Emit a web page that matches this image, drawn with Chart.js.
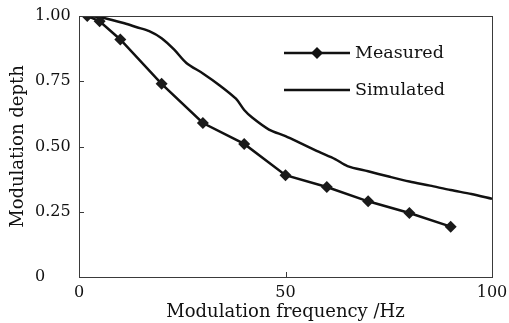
<!DOCTYPE html>
<html>
<head>
<meta charset="utf-8">
<script src="https://cdn.jsdelivr.net/npm/chart.js@4.4.1/dist/chart.umd.min.js"></script>
<style>
  html, body { margin: 0; padding: 0; background: #fff; }
  #wrap { width: 509px; height: 323px; }
</style>
</head>
<body>
<div id="wrap"><canvas id="c" width="509" height="323"></canvas></div>
<script>
// Modulation depth versus modulation frequency
const seriesNames = ['Measured', 'Simulated'];

const measuredFreq  = [2, 5, 10, 20, 30, 40, 50, 60, 70, 80, 90];
const measuredDepth = [1.00, 0.98, 0.91, 0.74, 0.59, 0.51, 0.39, 0.345, 0.29, 0.245, 0.193];

const simulatedFreq  = [2, 5, 8, 11, 14, 17, 20, 23, 26, 30, 34, 38, 40, 42, 46, 50, 54, 58, 62, 65, 70, 75, 80, 85, 90, 95, 100];
const simulatedDepth = [1.00, 0.995, 0.985, 0.972, 0.957, 0.942, 0.915, 0.872, 0.82, 0.78, 0.735, 0.683, 0.64, 0.61, 0.565, 0.54, 0.51, 0.48, 0.452, 0.425, 0.405, 0.385, 0.366, 0.35, 0.333, 0.318, 0.30];

const xTickValues = [0, 50, 100];
const yTickValues = [0, 0.25, 0.5, 0.75, 1];
const yTickLabels = ['0', '0.25', '0.50', '0.75', '1.00'];
const xTitle = 'Modulation frequency /Hz';
const yTitle = 'Modulation depth';

const FONT = '"DejaVu Serif", serif';

const toPoints = (xs, ys) => xs.map((x, i) => ({ x: x, y: ys[i] }));

// frame, inward tick marks, left-aligned y labels and in-plot legend
const framePlugin = {
  id: 'frame',
  afterDatasetsDraw(chart) {
    const { ctx, chartArea: a, scales } = chart;
    ctx.save();
    ctx.strokeStyle = '#3a3a3a';
    ctx.lineWidth = 1;
    ctx.strokeRect(a.left + 0.5, a.top + 0.5, a.right - a.left, a.bottom - a.top);
    // inner ticks
    ctx.beginPath();
    yTickValues.slice(1, -1).forEach(v => {
      const y = Math.round(scales.y.getPixelForValue(v)) + 0.5;
      ctx.moveTo(a.left, y); ctx.lineTo(a.left + 5, y);
    });
    xTickValues.slice(1, -1).forEach(v => {
      const x = Math.round(scales.x.getPixelForValue(v)) + 0.5;
      ctx.moveTo(x, a.bottom); ctx.lineTo(x, a.bottom - 5);
    });
    ctx.stroke();

    // y tick labels, left aligned in a column
    ctx.fillStyle = '#111';
    ctx.font = '16px ' + FONT;
    ctx.textAlign = 'left';
    ctx.textBaseline = 'middle';
    yTickValues.forEach((v, i) => {
      ctx.fillText(yTickLabels[i], a.left - 44, scales.y.getPixelForValue(v));
    });

    // legend
    const lx0 = 284, lx1 = 350, tx = 355;
    const rows = [53, 90];
    ctx.font = '17.5px ' + FONT;
    chart.data.datasets.forEach((ds, i) => {
      const y = rows[i];
      ctx.strokeStyle = '#111';
      ctx.lineWidth = 2.5;
      ctx.beginPath(); ctx.moveTo(lx0, y); ctx.lineTo(lx1, y); ctx.stroke();
      if (ds.pointRadius > 0) {
        const cx = (lx0 + lx1) / 2, r = 6;
        ctx.beginPath();
        ctx.moveTo(cx, y - r); ctx.lineTo(cx + r, y); ctx.lineTo(cx, y + r); ctx.lineTo(cx - r, y);
        ctx.closePath(); ctx.fill();
      }
      ctx.fillText(ds.label, tx, y);
    });
    ctx.restore();
  }
};

new Chart(document.getElementById('c'), {
  type: 'scatter',
  data: {
    datasets: [
      {
        label: seriesNames[0],
        data: toPoints(measuredFreq, measuredDepth),
        showLine: true,
        borderColor: '#111',
        backgroundColor: '#1a1a1a',
        borderWidth: 2.5,
        pointStyle: 'rectRot',
        pointRadius: 6,
        pointBorderWidth: 0,
        tension: 0
      },
      {
        label: seriesNames[1],
        data: toPoints(simulatedFreq, simulatedDepth),
        showLine: true,
        borderColor: '#111',
        borderWidth: 2.5,
        pointRadius: 0,
        tension: 0.3
      }
    ]
  },
  options: {
    responsive: false,
    animation: false,
    layout: { padding: { top: 16, right: 17, left: 0, bottom: 0 } },
    plugins: { legend: { display: false }, tooltip: { enabled: false } },
    scales: {
      x: {
        type: 'linear', min: 0, max: 100,
        afterBuildTicks: s => { s.ticks = xTickValues.map(v => ({ value: v })); },
        afterFit: s => { s.height = 46; s.paddingLeft = 0; s.paddingRight = 0; },
        grid: { display: false, drawTicks: false },
        border: { display: false },
        ticks: { color: '#111', font: { family: FONT, size: 16 }, padding: 6, maxRotation: 0 },
        title: { display: true, text: xTitle, color: '#111', font: { family: FONT, size: 18 }, padding: { top: 0, bottom: 0 } }
      },
      y: {
        type: 'linear', min: 0, max: 1,
        afterBuildTicks: s => { s.ticks = yTickValues.map(v => ({ value: v })); },
        afterFit: s => { s.width = 79; s.paddingTop = 0; s.paddingBottom = 0; },
        grid: { display: false, drawTicks: false },
        border: { display: false },
        ticks: { display: false },
        title: { display: true, text: yTitle, color: '#111', font: { family: FONT, size: 18 }, padding: { top: 8, bottom: 0 } }
      }
    }
  },
  plugins: [framePlugin]
});
</script>
</body>
</html>
